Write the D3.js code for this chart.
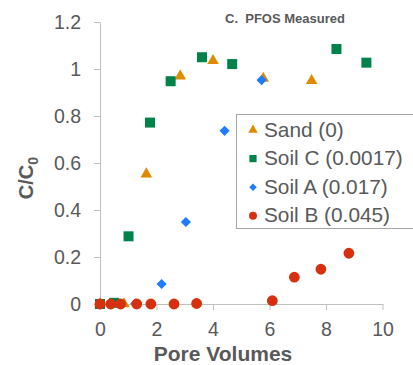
<!DOCTYPE html>
<html>
<head>
<meta charset="utf-8">
<script src="https://cdn.jsdelivr.net/npm/d3@7"></script>
<style>
  body { margin: 0; background: #fff; }
  text { font-family: "Liberation Sans", Arial, sans-serif; fill: #595959; }
</style>
</head>
<body>
<svg id="chart" width="413" height="365"></svg>
<script>
// ---- data (pore volumes, C/C0) ----
var seriesNames = ["Sand (0)", "Soil C (0.0017)", "Soil A (0.017)", "Soil B (0.045)"];

var sandX = [0, 0.85, 1.64, 2.84, 4.0, 5.78, 7.49];
var sandY = [0, 0, 0.553, 0.970, 1.035, 0.960, 0.950];

var soilCX = [0, 0.5, 1.01, 1.77, 2.5, 3.61, 4.68, 8.37, 9.43];
var soilCY = [0, 0.005, 0.288, 0.772, 0.948, 1.050, 1.021, 1.085, 1.027];

var soilAX = [0, 0.75, 1.25, 2.18, 3.04, 4.41, 5.72];
var soilAY = [0, 0, 0.002, 0.085, 0.349, 0.737, 0.953];

var soilBX = [0, 0.38, 0.73, 1.3, 1.8, 2.62, 3.42, 6.1, 6.88, 7.82, 8.81];
var soilBY = [0, 0, 0, 0, 0, 0, 0.002, 0.014, 0.114, 0.148, 0.216];

var xTicks = [0, 2, 4, 6, 8, 10];
var yTicks = [0, 0.2, 0.4, 0.6, 0.8, 1, 1.2];

var svg = d3.select("#chart");

//========= scales
var x = d3.scaleLinear().domain([0, 10]).range([100, 382.5]);
var y = d3.scaleLinear().domain([0, 1.2]).range([304, 22]);

var axisColor = "#bfbfbf";

//========= axes
var gx = svg.append("g")
    .attr("transform", "translate(0,304)")
    .call(d3.axisBottom(x).tickValues(xTicks).tickSize(6).tickSizeOuter(0).tickPadding(12)
      .tickFormat(d3.format("d")));

var gy = svg.append("g")
    .attr("transform", "translate(100,0)")
    .call(d3.axisLeft(y).tickValues(yTicks).tickSize(6).tickSizeOuter(0).tickPadding(13)
      .tickFormat(function(d) { return d3.format("")(+d.toFixed(1)); }));

[gx, gy].forEach(function(g) {
  g.select(".domain").attr("stroke", axisColor);
  g.selectAll(".tick line").attr("stroke", axisColor);
  g.selectAll(".tick text").attr("fill", "#595959")
    .style("font-size", "19.5px")
    .style("font-family", "'Liberation Sans', Arial, sans-serif");
});

//========= series
var series = [
  { name: seriesNames[0], xs: sandX, ys: sandY, color: "#e08a00", sym: d3.symbolTriangle, size: 58, rot: 0, lsize: 38 },
  { name: seriesNames[1], xs: soilCX, ys: soilCY, color: "#00834b", sym: d3.symbolSquare, size: 100, rot: 0, lsize: 52 },
  { name: seriesNames[2], xs: soilAX, ys: soilAY, color: "#1f7bff", sym: d3.symbolSquare, size: 52, rot: 45, lsize: 28 },
  { name: seriesNames[3], xs: soilBX, ys: soilBY, color: "#d6300f", sym: d3.symbolCircle, size: 92, rot: 0, lsize: 50 }
];

var plot = svg.append("g");
series.forEach(function(s) {
  var pts = s.xs.map(function(v, i) { return [v, s.ys[i]]; });
  plot.selectAll(null)
    .data(pts)
    .enter()
    .append("path")
      .attr("d", d3.symbol().type(s.sym).size(s.size))
      .attr("transform", function(d) {
        return "translate(" + x(d[0]) + "," + y(d[1]) + ") rotate(" + s.rot + ")";
      })
      .attr("fill", s.color);
});

//========= title
svg.append("text")
  .attr("x", 225).attr("y", 23)
  .attr("xml:space", "preserve")
  .style("white-space", "pre")
  .style("font-size", "13px")
  .style("font-weight", "bold")
  .text("C.  PFOS Measured");

//========= axis titles
svg.append("text")
  .attr("x", 223).attr("y", 361)
  .attr("text-anchor", "middle")
  .style("font-size", "21px")
  .style("font-weight", "bold")
  .text("Pore Volumes");

var yt = svg.append("text")
  .attr("transform", "translate(33,178) rotate(-90)")
  .attr("text-anchor", "middle")
  .style("font-size", "20px")
  .style("font-weight", "bold");
yt.append("tspan").text("C/C");
yt.append("tspan").attr("dy", 5).style("font-size", "14px").text("0");

//////////
// LEGEND //
//////////
var legend = svg.append("g");
legend.append("rect")
  .attr("x", 236.5).attr("y", 114.5)
  .attr("width", 190).attr("height", 114)
  .attr("fill", "#fff")
  .attr("stroke", "#a6a6a6");

series.forEach(function(s, i) {
  var cy = 130 + i * 28.6;
  legend.append("path")
    .attr("d", d3.symbol().type(s.sym).size(s.lsize))
    .attr("transform", "translate(253," + cy + ") rotate(" + s.rot + ")")
    .attr("fill", s.color);
  legend.append("text")
    .attr("x", 264).attr("y", cy + 6.5)
    .style("font-size", "20.8px")
    .text(s.name);
});
</script>
</body>
</html>
